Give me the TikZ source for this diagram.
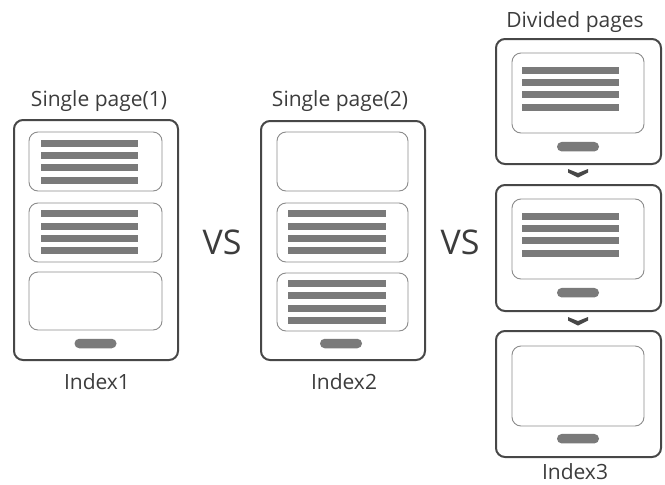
\documentclass[tikz,border=0pt]{standalone}
\usepackage{fontspec}
\setmainfont{Open Sans}
\definecolor{outer}{HTML}{474747}
\definecolor{inner}{HTML}{8C8C8C}
\definecolor{barc}{HTML}{7A7A7A}
\definecolor{txt}{HTML}{3C3C3C}
\newcommand\barset[3]{\foreach \k in {-1.5,-0.5,0.5,1.5}{\fill[bar] (#1,#3+\k*12.3-3.5) rectangle (#2,#3+\k*12.3+3.5);}}
\begin{document}
\begin{tikzpicture}[x=1pt,y=-1pt,
 phone/.style={draw=outer, line width=2pt, rounded corners=9pt, fill=white, inner sep=0pt},
 panel/.style={draw=inner, line width=0.9pt, rounded corners=9pt, inner sep=0pt},
 bar/.style={fill=barc},
 btn/.style={fill=barc, rounded corners=4.7pt, inner sep=0pt, minimum width=42pt, minimum height=9.5pt},
 chev/.style={fill=outer},
 lbl/.style={text=txt, font=\fontsize{21}{24}\selectfont, inner sep=0pt},
 vs/.style={text=txt, font=\fontsize{34}{38}\selectfont, inner sep=0pt}]
\useasboundingbox (0,0) rectangle (665,485);
% phone 1
\node[phone, minimum width=164pt, minimum height=240pt] (p1) at (96,240) {};
\node[panel, minimum width=133pt, minimum height=59pt] (p1a) at (95.5,161.5) {};
\node[panel, minimum width=133pt, minimum height=59pt] (p1b) at (95.5,232.5) {};
\node[panel, minimum width=133pt, minimum height=58pt] (p1c) at (95.5,301) {};
\barset{41}{138}{161.8}
\barset{41}{138}{232.2}
\node[btn] (b1) at (95.5,343.5) {};
\node[lbl] (t1) at (99,101) {Single page(1)};
\node[lbl] (i1) at (97,382) {Index1};
% phone 2
\node[phone, minimum width=164pt, minimum height=239pt] (p2) at (343,240.5) {};
\node[panel, minimum width=131pt, minimum height=59pt] (p2a) at (342.5,161.5) {};
\node[panel, minimum width=131pt, minimum height=59pt] (p2b) at (342.5,232.5) {};
\node[panel, minimum width=131pt, minimum height=58pt] (p2c) at (342.5,302) {};
\barset{288}{386}{232.4}
\barset{288}{386}{302}
\node[btn] (b2) at (341,343.5) {};
\node[lbl] (t2) at (340,101) {Single page(2)};
\node[lbl] (i2) at (344,382) {Index2};
% VS
\node[vs] (vs1) at (222,242) {VS};
\node[vs] (vs2) at (460,242) {VS};
% divided pages
\node[phone, minimum width=165pt, minimum height=125pt] (p3) at (578.5,101.5) {};
\node[panel, minimum width=132pt, minimum height=80pt] (p3a) at (578,93) {};
\barset{522}{619}{88.8}
\node[btn] (b3) at (578,146.7) {};
\node[phone, minimum width=165pt, minimum height=126pt] (p4) at (578.5,248) {};
\node[panel, minimum width=132pt, minimum height=80pt] (p4a) at (578,239) {};
\barset{522}{619}{234.8}
\node[btn] (b4) at (578,292.7) {};
\node[phone, minimum width=165pt, minimum height=126pt] (p5) at (578.5,394) {};
\node[panel, minimum width=132pt, minimum height=80pt] (p5a) at (578,386) {};
\node[btn] (b5) at (578,438.7) {};
\node[lbl] (t3) at (575,22) {Divided pages};
\node[lbl] (i3) at (575,472) {Index3};
% chevrons
\fill[chev] (568,169) -- (578,173) -- (588,169) -- (588,172.5) -- (578,177.5) -- (568,172.5) -- cycle;
\fill[chev] (568,317) -- (578,321) -- (588,317) -- (588,320.5) -- (578,325.5) -- (568,320.5) -- cycle;
\end{tikzpicture}
\end{document}
